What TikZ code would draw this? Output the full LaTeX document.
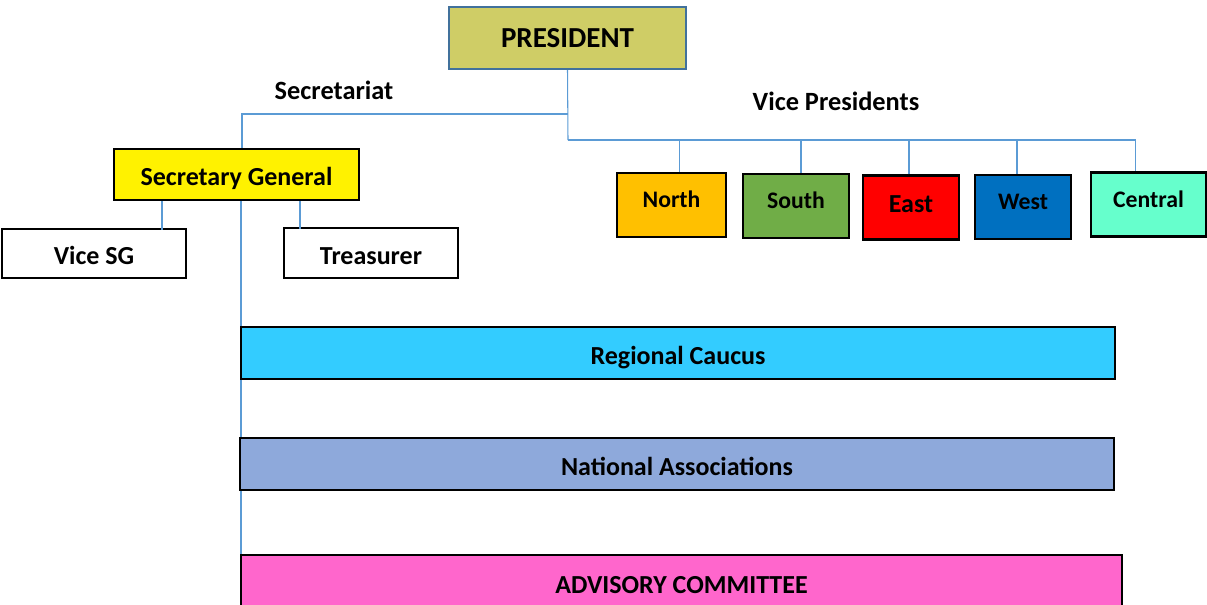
\documentclass[tikz,border=0pt]{standalone}
\usepackage{fontspec}
\setmainfont{Carlito}
\definecolor{presfill}{RGB}{207,205,102}
\definecolor{presline}{RGB}{65,113,156}
\definecolor{linkblue}{RGB}{91,155,213}
\definecolor{northfill}{RGB}{255,192,0}
\definecolor{southfill}{RGB}{112,173,71}
\definecolor{westfill}{RGB}{0,112,192}
\definecolor{centralfill}{RGB}{102,255,204}
\definecolor{regfill}{RGB}{51,204,255}
\definecolor{natfill}{RGB}{142,169,219}
\definecolor{advfill}{RGB}{255,102,204}
\begin{document}
\begin{tikzpicture}[x=0.02cm, y=-0.02cm,
    box/.style={draw=black, line width=1.2pt, inner sep=0pt, text height=13pt, text depth=0pt,
                font=\bfseries\fontsize{14.8}{16}\selectfont},
    vpbox/.style={box, minimum height=1.28cm, text height=3pt, font=\bfseries\fontsize{13.5}{15}\selectfont},
    bar/.style={box, minimum width=17.48cm, minimum height=1.04cm},
    link/.style={draw=linkblue, line width=0.6pt},
    title/.style={font=\bfseries\fontsize{15}{17}\selectfont}]
        \useasboundingbox (0,0) rectangle (1207,605);

        \node[box, draw=presline, fill=presfill, minimum width=4.74cm, minimum height=1.24cm, text height=11pt,
              font=\bfseries\fontsize{16.5}{18}\selectfont] (pres) at (567.5,38) {PRESIDENT};
        \node[title] (secretariat) at (334,90) {Secretariat};
        \node[title] (vicepres) at (836,101) {Vice Presidents};

        \node[box, fill=yellow, minimum width=4.9cm, minimum height=1.02cm] (sg) at (236.5,174.5) {Secretary General};
        \node[box, fill=white, minimum width=3.68cm, minimum height=0.98cm] (vsg) at (94,253.5) {Vice SG};
        \node[box, fill=white, minimum width=3.48cm, minimum height=1cm] (treas) at (371,253) {Treasurer};

        \node[vpbox, fill=northfill, minimum width=2.18cm] (north) at (671.5,205) {North};
        \node[vpbox, fill=southfill, minimum width=2.12cm] (south) at (796,206) {South};
        \node[vpbox, fill=red, minimum width=1.92cm, text height=5.5pt,
              font=\bfseries\fontsize{14.8}{16}\selectfont] (east) at (911,207.5) {East};
        \node[vpbox, fill=westfill, minimum width=1.92cm] (west) at (1023,207) {West};
        \node[vpbox, fill=centralfill, minimum width=2.3cm] (central) at (1148.5,204.5) {Central};

        \draw[link] ([xshift=0.09cm]sg.south) -- ++(0,405);

        \node[bar, fill=regfill] (reg) at (678,353) {Regional Caucus};
        \node[bar, fill=natfill] (nat) at (677,464) {National Associations};
        \node[bar, fill=advfill, minimum width=17.62cm, minimum height=1.08cm] (adv) at (681.5,582) {ADVISORY COMMITTEE};

        \coordinate (sbar) at (568,114);
        \coordinate (vbar) at (568,140);
        \draw[link] (pres.south) -- (vbar);
        \draw[link] (sbar) -| ([xshift=0.11cm]sg.north);
        \draw[link] (vbar) -| ([xshift=-0.26cm]central.north);
        \draw[link] ([xshift=0.16cm]north.north) |- (vbar);
        \draw[link] ([xshift=0.1cm]south.north) |- (vbar);
        \draw[link] ([xshift=-0.04cm]east.north) |- (vbar);
        \draw[link] ([xshift=-0.12cm]west.north) |- (vbar);
        \draw[link] ([xshift=-1.49cm]sg.south) -- ++(0,29);
        \draw[link] ([xshift=1.27cm]sg.south) -- ++(0,28);

    \end{tikzpicture}
\end{document}
